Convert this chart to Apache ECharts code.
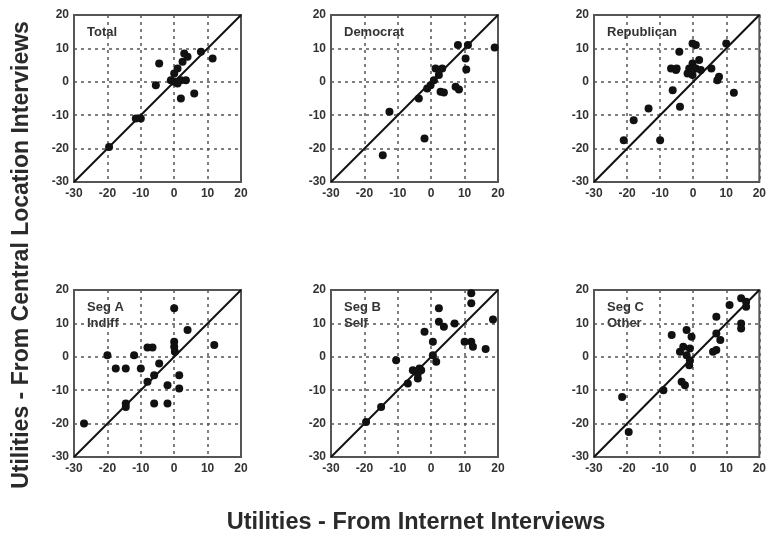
<!DOCTYPE html>
<html>
<head>
<meta charset="utf-8">
<style>
  html, body { margin: 0; padding: 0; background: #fff; }
  #chart { width: 769px; height: 539px; }
</style>
<script src="https://cdn.jsdelivr.net/npm/echarts@6/dist/echarts.min.js"></script>
</head>
<body>
<div id="chart"></div>
<script>
// Utilities: internet interview (x) vs central location interview (y)
const panelNames = ['Total', 'Democrat', 'Republican', 'Seg A\nIndiff', 'Seg B\nSelf', 'Seg C\nOther'];
const axisTicks = [-30, -20, -10, 0, 10, 20];
const diagonal = [-30, 20];

const totalPts = [
  [-19.5, -19.5], [-11.5, -11], [-10, -11], [-5.5, -1], [-4.5, 5.5],
  [-1, 0.5], [0, 0], [0, 2.5], [0.5, 0], [1, 4], [1, -0.5], [2, 0.5],
  [2.5, 6], [3, 8.5], [4, 7.5], [3.5, 0.5], [2, -5], [6, -3.5], [8, 9], [11.5, 7]
];
const democratPts = [
  [-14.5, -22], [-12.5, -9], [-3.7, -5], [-2, -17], [-1.2, -2], [-0.2, -1],
  [0.8, 0.5], [1.3, 4], [2.3, 2], [3.3, 4], [2.8, -3], [3.8, -3.2],
  [7.3, -1.5], [8.3, -2.3], [8, 11], [11, 11], [10.3, 7], [10.5, 3.7], [19, 10.3]
];
const republicanPts = [
  [-21, -17.5], [-18, -11.5], [-13.5, -8], [-10, -17.5], [-6.2, -2.5], [-4, -7.5],
  [-4.2, 9], [-6.7, 4], [-5.2, 3.5], [-5, 4], [-1.2, 4], [-1.7, 2.5], [-0.2, 2],
  [-0.2, 5.5], [-0.2, 11.5], [0.8, 11], [1.8, 6.5], [0.8, 4], [2.3, 3.5],
  [5.5, 4], [7.3, 0.5], [7.8, 1.5], [10, 11.5], [12.3, -3.3]
];
const segAPts = [
  [-27, -20], [-20, 0.5], [-17.5, -3.5], [-14.5, -3.5], [-12, 0.5], [-10, -3.5],
  [-8, 2.8], [-6.5, 2.8], [-4.5, -2], [-6, -5.5], [-8, -7.5], [-14.5, -14],
  [-14.5, -15], [-6, -14], [-2, -14], [-2, -8.5], [0, 14.5], [0, 4.5], [0, 3],
  [0.2, 1.5], [1.5, -5.5], [1.5, -9.5], [4, 8], [12, 3.5]
];
const segBPts = [
  [-19.5, -19.5], [-15, -15], [-10.5, -1], [-7, -8], [-5.5, -4], [-4, -5],
  [-3, -4], [-4, -6.5], [-3.5, -3.5], [-2, 7.5], [0.5, 4.5], [0.5, 0.5], [1.5, -1.5],
  [2.3, 14.5], [2.3, 10.5], [3.8, 9], [7, 10], [12, 19], [12, 16],
  [10, 4.5], [12, 4.5], [12.5, 3], [16.3, 2.3], [18.5, 11.2]
];
const segCPts = [
  [-21.5, -12], [-19.5, -22.5], [-9, -10], [-6.5, 6.5], [-3, 3], [-4, 1.5],
  [-2, 0.5], [-1, 2.5], [-1, -1], [-1.2, -2.5], [-3.5, -7.5], [-2.5, -8.5],
  [-2, 8], [-0.5, 6], [6, 1.5], [7, 2], [7, 12], [7, 7], [8.2, 5],
  [11, 15.5], [14.5, 17.5], [16, 16.5], [16, 15], [14.5, 10], [14.5, 8.5]
];
const panelData = [totalPts, democratPts, republicanPts, segAPts, segBPts, segCPts];

// layout of the 2 x 3 panel grid (pixels)
const colLeft = [74, 331, 594];
const rowTop = [15, 290];
const boxSize = 167;

const grid = [], xAxis = [], yAxis = [], series = [], graphic = [];
const labelStyle = { color: '#333', fontWeight: 'bold', fontSize: 12, fontFamily: 'Liberation Sans, Arial, sans-serif' };
const gridLineStyle = { color: '#555', type: [3, 4], width: 1.5 };

panelNames.forEach((name, i) => {
  const left = colLeft[i % 3];
  const top = rowTop[Math.floor(i / 3)];
  grid.push({ left: left, top: top, width: boxSize, height: boxSize,
              show: true, borderColor: '#555', borderWidth: 2, backgroundColor: 'transparent' });
  const axisCommon = {
    gridIndex: i, type: 'value', min: axisTicks[0], max: axisTicks[axisTicks.length - 1], interval: 10,
    axisLine: { show: false }, axisTick: { show: false },
    splitLine: { show: true, lineStyle: gridLineStyle }
  };
  xAxis.push(Object.assign({}, axisCommon, { axisLabel: Object.assign({ margin: 6 }, labelStyle) }));
  yAxis.push(Object.assign({}, axisCommon, { axisLabel: Object.assign({ margin: 5 }, labelStyle) }));
  series.push({
    type: 'line', xAxisIndex: i, yAxisIndex: i, silent: true, symbol: 'none',
    data: [[diagonal[0], diagonal[0]], [diagonal[1], diagonal[1]]],
    lineStyle: { color: '#111', width: 2 }, z: 3
  });
  series.push({
    type: 'scatter', xAxisIndex: i, yAxisIndex: i, data: panelData[i],
    symbolSize: 8, itemStyle: { color: '#111', opacity: 1 }, z: 4
  });
  graphic.push({
    type: 'text', left: left + 13, top: top + 9,
    style: { text: name, fill: '#333', font: 'bold 13px "Liberation Sans", Arial, sans-serif', lineHeight: 16 }
  });
});

graphic.push({
  type: 'text', x: 416, y: 523, style: {
    text: 'Utilities - From Internet Interviews', fill: '#2a2a2a',
    font: 'bold 23.5px "Liberation Sans", Arial, sans-serif', align: 'center', verticalAlign: 'middle'
  }
});
graphic.push({
  type: 'text', x: 22, y: 255, rotation: Math.PI / 2, style: {
    text: 'Utilities - From Central Location Interviews', fill: '#2a2a2a',
    font: 'bold 23px "Liberation Sans", Arial, sans-serif', align: 'center', verticalAlign: 'middle'
  }
});

const chart = echarts.init(document.getElementById('chart'), null, { renderer: 'canvas' });
chart.setOption({
  animation: false,
  backgroundColor: '#fff',
  grid, xAxis, yAxis, series, graphic
});
</script>
</body>
</html>
